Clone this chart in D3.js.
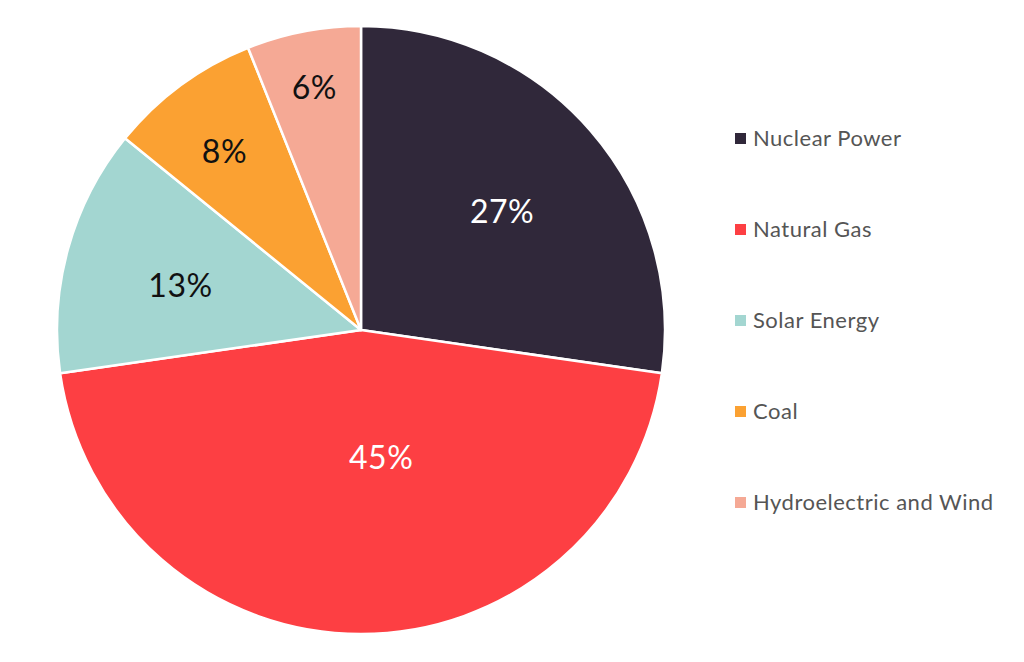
<!DOCTYPE html>
<html>
<head>
<meta charset="utf-8">
<script src="https://cdn.jsdelivr.net/npm/d3@7"></script>
<style>
  body { margin: 0; background: #fff; }
  svg { display: block; font-family: Lato, "Open Sans", sans-serif; }
</style>
</head>
<body>
<div id="chart"></div>
<script>
// Datos del gráfico
const categories = ["Nuclear Power", "Natural Gas", "Solar Energy", "Coal", "Hydroelectric and Wind"];
const shares = [27, 45, 13, 8, 6];
const colors = ["#30283a", "#fd3f43", "#a3d6d1", "#fba132", "#f5a995"];
const labelColors = ["#ffffff", "#ffffff", "#111111", "#111111", "#111111"];

// Posición de las etiquetas (radio y ajuste de ángulo en grados)
const labelRadius = [184, 129, 186, 225, 247];
const labelShift = [1, -9, -1.5, -1, 0];

const width = 1024, height = 662;
const cx = 361, cy = 330, radius = 304;

const svg = d3.select("#chart")
  .append("svg")
  .attr("width", width)
  .attr("height", height);

const pie = d3.pie().sort(null).value(d => d);
const arcs = pie(shares);
const arc = d3.arc().innerRadius(0).outerRadius(radius);

const g = svg.append("g").attr("transform", `translate(${cx},${cy})`);

// Sectores
g.selectAll("path")
  .data(arcs)
  .join("path")
  .attr("d", arc)
  .attr("fill", (d, i) => colors[i])
  .attr("stroke", "#ffffff")
  .attr("stroke-width", 2.5)
  .attr("stroke-linejoin", "round");

// Etiquetas de porcentaje
g.selectAll("text.pct")
  .data(arcs)
  .join("text")
  .attr("class", "pct")
  .attr("transform", (d, i) => {
    const a = (d.startAngle + d.endAngle) / 2 + labelShift[i] * Math.PI / 180;
    const r = labelRadius[i];
    return `translate(${r * Math.sin(a)},${-r * Math.cos(a)})`;
  })
  .attr("text-anchor", "middle")
  .attr("dy", "0.36em")
  .attr("font-size", 32)
  .attr("letter-spacing", 0.5)
  .attr("fill", (d, i) => labelColors[i])
  .text(d => d.data + "%");

// Leyenda
const legendY = d3.scalePoint()
  .domain(categories)
  .range([138, 502]);

const legend = svg.append("g")
  .selectAll("g")
  .data(categories)
  .join("g")
  .attr("transform", d => `translate(735,${legendY(d)})`);

legend.append("rect")
  .attr("x", 0)
  .attr("y", -5)
  .attr("width", 11)
  .attr("height", 11)
  .attr("fill", (d, i) => colors[i]);

legend.append("text")
  .attr("x", 18)
  .attr("dy", "0.36em")
  .attr("font-size", 22)
  .attr("letter-spacing", 0.5)
  .attr("fill", "#555555")
  .text(d => d);
</script>
</body>
</html>
